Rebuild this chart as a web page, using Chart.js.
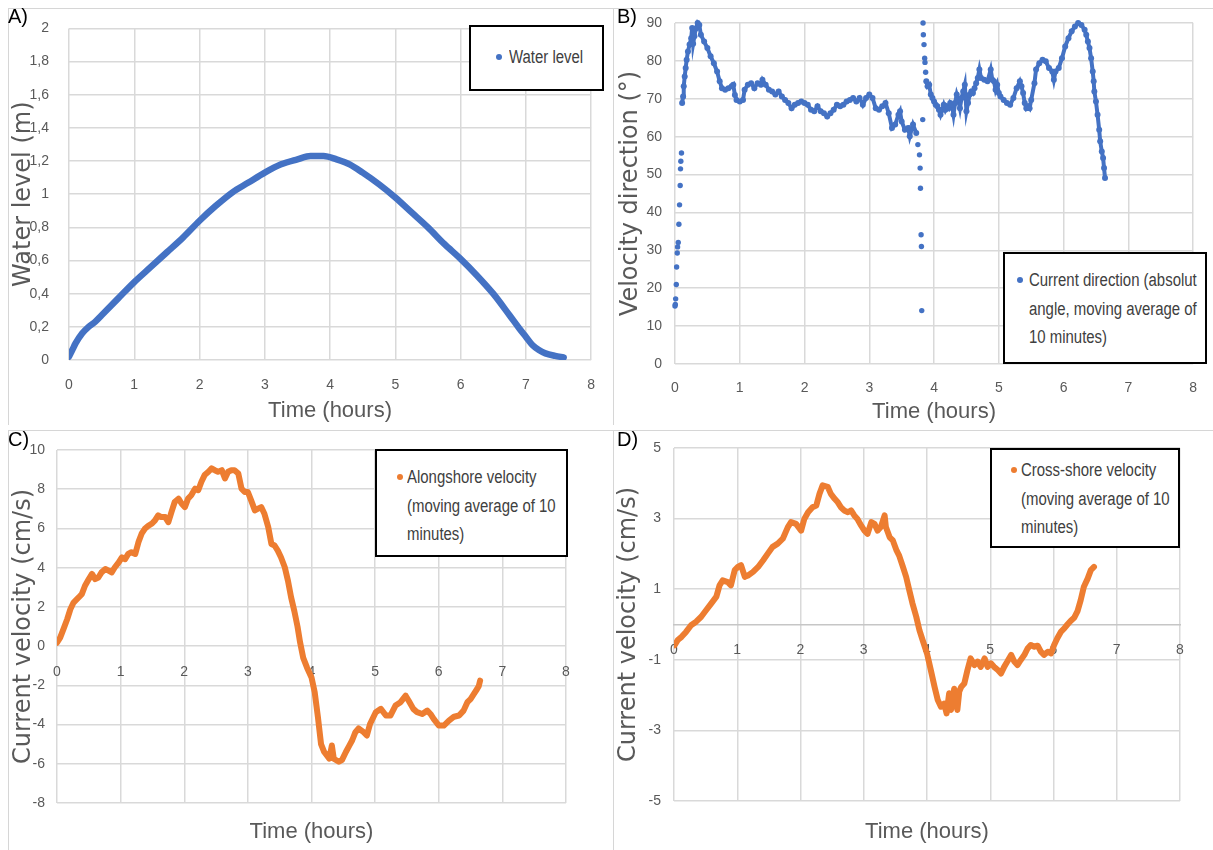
<!DOCTYPE html>
<html>
<head>
<meta charset="utf-8">
<title>Water level and currents</title>
<script src="https://cdn.jsdelivr.net/npm/chart.js@4.4.1/dist/chart.umd.min.js"></script>
<style>
  body { margin: 0; width: 1213px; height: 850px; background: #fff; position: relative; overflow: hidden;
         font-family: 'Liberation Sans', Arial, sans-serif; }
  canvas { position: absolute; }
  .frame { position: absolute; background: #d6d6d6; }
  .tag { position: absolute; font: 20px 'Liberation Sans', Arial, sans-serif; color: #000; line-height: 20px; }
  .legend { position: absolute; border: 2px solid #000; box-sizing: border-box; background: #fff;
            color: #404040; font-size: 18px; line-height: 28.5px; }
  .legend .dot { position: absolute; width: 6px; height: 6px; border-radius: 50%; }
  .legend .txt { position: absolute; white-space: nowrap; transform: scaleX(0.83); transform-origin: 0 0; }
</style>
</head>
<body>

<!-- panel frames -->
<div class="frame" style="left:8px; top:8px; width:1205px; height:1px;"></div>
<div class="frame" style="left:8px; top:8px; width:1px; height:417px;"></div>
<div class="frame" style="left:613px; top:8px; width:1px; height:417px;"></div>
<div class="frame" style="left:8px; top:430px; width:1205px; height:1px;"></div>
<div class="frame" style="left:8px; top:430px; width:1px; height:420px;"></div>
<div class="frame" style="left:613px; top:430px; width:1px; height:420px;"></div>

<canvas id="chartA" width="612" height="425" style="left:0; top:0;"></canvas>
<canvas id="chartB" width="601" height="425" style="left:612px; top:0;"></canvas>
<canvas id="chartC" width="612" height="425" style="left:0; top:425px;"></canvas>
<canvas id="chartD" width="601" height="425" style="left:612px; top:425px;"></canvas>

<div class="tag" style="left:8px; top:6px;">A)</div>
<div class="tag" style="left:617px; top:6px;">B)</div>
<div class="tag" style="left:8px; top:429px;">C)</div>
<div class="tag" style="left:617px; top:429px;">D)</div>

<!-- legends -->
<div class="legend" style="left:469px; top:25px; width:135px; height:66px;">
  <span class="dot" style="left:25px; top:27px; background:#4472c4;"></span>
  <span class="txt" style="left:38px; top:16px;">Water level</span>
</div>
<div class="legend" style="left:1003px; top:252px; width:204px; height:112px;">
  <span class="dot" style="left:12px; top:23px; background:#4472c4;"></span>
  <span class="txt" style="left:24px; top:12px;">Current direction (absolut<br>angle, moving average of<br>10 minutes)</span>
</div>
<div class="legend" style="left:375px; top:449px; width:193px; height:108px;">
  <span class="dot" style="left:20px; top:23px; background:#ed7d31;"></span>
  <span class="txt" style="left:30px; top:12px;">Alongshore velocity<br>(moving average of 10<br>minutes)</span>
</div>
<div class="legend" style="left:990px; top:448px; width:190px; height:100px;">
  <span class="dot" style="left:19px; top:17px; background:#ed7d31;"></span>
  <span class="txt" style="left:29px; top:6px;">Cross-shore velocity<br>(moving average of 10<br>minutes)</span>
</div>

<script>
// ---- tick labels ----
const xTicks  = ['0', '1', '2', '3', '4', '5', '6', '7', '8'];
const aYTicks = ['0', '0,2', '0,4', '0,6', '0,8', '1', '1,2', '1,4', '1,6', '1,8', '2'];
const bYTicks = ['0', '10', '20', '30', '40', '50', '60', '70', '80', '90'];
const cYTicks = ['-8', '-6', '-4', '-2', '0', '2', '4', '6', '8', '10'];
const dYTicks = ['-5', '-3', '-1', '1', '3', '5'];

// ---- A) water level (m) ----
const aTime  = [0, 0.05, 0.1, 0.2, 0.3, 0.4, 0.5, 0.75, 1, 1.25, 1.5, 1.75, 2, 2.25, 2.5, 2.75, 3, 3.25, 3.5, 3.7,
                3.9, 4.1, 4.3, 4.5, 4.75, 5, 5.25, 5.5, 5.75, 6, 6.25, 6.5, 6.75, 6.9, 7, 7.1, 7.2, 7.3, 7.45, 7.58];
const aLevel = [0.02, 0.06, 0.1, 0.16, 0.2, 0.23, 0.27, 0.37, 0.47, 0.56, 0.65, 0.74, 0.84, 0.93, 1.01, 1.07, 1.13, 1.18, 1.21, 1.23,
                1.23, 1.21, 1.18, 1.13, 1.06, 0.98, 0.89, 0.8, 0.7, 0.61, 0.51, 0.4, 0.27, 0.19, 0.14, 0.09, 0.06, 0.04, 0.025, 0.016];

// ---- B) current direction (deg): dense band + isolated fast-changing samples ----
const bBandTime = [0.11, 0.125, 0.135, 0.15, 0.165, 0.18, 0.2, 0.225, 0.25, 0.265, 0.28, 0.3, 0.32, 0.35, 0.375, 0.4, 0.45, 0.5,
  0.55, 0.6, 0.65, 0.69, 0.725, 0.775, 0.825, 0.875, 0.9, 0.925, 0.95, 1.0, 1.05, 1.075, 1.125, 1.175, 1.225, 1.275, 1.325,
  1.35, 1.4, 1.45, 1.5, 1.55, 1.6, 1.65, 1.7, 1.75, 1.8, 1.85, 1.9, 1.95, 2.0, 2.05, 2.1, 2.15, 2.2, 2.25, 2.3, 2.35, 2.4,
  2.45, 2.5, 2.55, 2.6, 2.65, 2.7, 2.75, 2.8, 2.85, 2.9, 2.95, 3.0, 3.05, 3.1, 3.15, 3.2, 3.25, 3.3, 3.35, 3.4, 3.45, 3.475,
  3.5, 3.55, 3.6, 3.625, 3.675, 3.725,
  3.88, 3.9, 3.925, 3.95, 3.975, 4.0, 4.025, 4.05, 4.075, 4.1, 4.125, 4.15, 4.175, 4.2, 4.225, 4.25, 4.275, 4.3, 4.325, 4.35,
  4.375, 4.4, 4.425, 4.45, 4.475, 4.5, 4.525, 4.55, 4.575, 4.6, 4.625, 4.65, 4.675, 4.7, 4.725, 4.775, 4.825, 4.875, 4.9,
  4.925, 4.95, 4.975, 5.0, 5.025, 5.075, 5.125, 5.175, 5.225, 5.275, 5.325, 5.35, 5.375, 5.4, 5.425, 5.45, 5.475, 5.5, 5.55,
  5.575, 5.625, 5.675, 5.725, 5.775, 5.825, 5.85, 5.875, 5.925, 5.975, 6.025, 6.075, 6.125, 6.175, 6.225, 6.275, 6.325,
  6.35, 6.375, 6.4, 6.425, 6.45, 6.465, 6.475, 6.5, 6.525, 6.55, 6.565, 6.59, 6.61, 6.625, 6.64];
const bBandDir = [68.9, 70.6, 73.3, 75.9, 78.1, 80.3, 82.5, 84.3, 86, 88.7, 84.5, 86.5, 88.5, 90, 89.5, 86.9, 85.1, 83.4,
  81.2, 79.4, 77.2, 74.6, 72.8, 72.4, 72.8, 73.3, 73.7, 71, 69.7, 69.3, 69.7, 72.4, 73.7, 74.1, 72.8, 74.1, 73.7,
  75, 73.7, 72.4, 71.9, 71.1, 71.9, 70.6, 69.7, 68.9, 67.5, 68.4, 68.9, 69.3, 68.9, 68.4, 67.1, 66.7, 68, 66.7, 66.2, 65.3, 66.2,
  67.1, 68.4, 68, 68.4, 69.3, 69.7, 70.2, 69.3, 70.2, 68.4, 70.2, 71.1, 70.2, 67.5, 67.1, 68, 68.9, 66.2, 62.3, 63.2, 65.8, 66.7,
  64, 61.8, 62.3, 60.1, 63.2, 61,
  74.6, 73.3, 73.7, 71.1, 70.2, 69.3, 68.4, 68, 67.1, 65.8, 67.1, 68.4, 67.1, 68, 67.5, 68.9, 68.4, 65.8, 68.9, 71.1,
  69.7, 67.5, 70.2, 71.9, 73.7, 66.7, 68.9, 71.1, 71.9, 71.5, 72.8, 74.1, 75.5, 77.7, 75.5, 75, 74.6, 77.7, 75,
  74.6, 72.4, 73.7, 71.5, 70.6, 69.7, 68.9, 68.4, 70.2, 72.8, 74.6, 73.3, 71.5, 68.9, 67.5, 68, 67.5, 69.7, 74.1,
  77.7, 79.4, 80.3, 79.9, 78.1, 77.2, 75, 77.2, 78.1, 80.7, 83.8, 86, 87.8, 89.1, 90, 89.5, 88.2,
  86.9, 85.1, 83.4, 80.7, 77.2, 74.6, 71.9, 69.3, 65.8, 61.8, 58.8, 56.1, 54.4, 51.7, 49.1];
const bSpotTime = [0, 0.005, 0.01, 0.02, 0.025, 0.035, 0.04, 0.05, 0.06, 0.07, 0.08, 0.085, 0.09, 0.1,
  3.75, 3.775, 3.785, 3.79, 3.8, 3.805, 3.81, 3.825, 3.83, 3.835, 3.845, 3.855, 3.86, 3.87];
const bSpotDir  = [15.3, 15.7, 17.2, 21, 25.6, 29.3, 30.9, 32.1, 36.9, 42, 47.1, 51.5, 53.5, 55.7,
  57.9, 55.2, 51.7, 46.4, 34.1, 31, 14.1, 64.5, 90, 86.9, 84.3, 80.7, 79.6, 77];

// ---- C) alongshore velocity (cm/s) ----
const cTime = [0, 0.05, 0.1, 0.16, 0.21, 0.26, 0.34, 0.39, 0.44, 0.5, 0.55, 0.6, 0.65, 0.7, 0.76, 0.81, 0.86, 0.91, 0.97,
  1.02, 1.07, 1.12, 1.17, 1.23, 1.28, 1.33, 1.38, 1.44, 1.49, 1.54, 1.59, 1.64, 1.7, 1.75, 1.8, 1.85, 1.91, 1.96, 2.01,
  2.06, 2.11, 2.17, 2.22, 2.27, 2.32, 2.38, 2.43, 2.48, 2.53, 2.59, 2.64, 2.69, 2.74, 2.79, 2.85, 2.9, 2.95, 3.0, 3.05,
  3.11, 3.16, 3.21, 3.26, 3.32, 3.37, 3.42, 3.47, 3.52, 3.58, 3.63, 3.68, 3.73, 3.78, 3.82, 3.87, 3.93, 4.0, 4.05, 4.1,
  4.15, 4.2, 4.28, 4.32, 4.35, 4.43, 4.48, 4.54, 4.59, 4.64, 4.69, 4.74, 4.82, 4.87, 4.92, 5.01, 5.09, 5.17, 5.24, 5.32,
  5.4, 5.48, 5.53, 5.6, 5.66, 5.74, 5.82, 5.87, 5.92, 6.0, 6.08, 6.16, 6.24, 6.32, 6.39, 6.45, 6.5, 6.55, 6.6, 6.63, 6.65];
const cAlong = [0.17, 0.43, 0.85, 1.37, 1.88, 2.22, 2.48, 2.65, 3.08, 3.42, 3.68, 3.42, 3.5, 3.76, 3.93, 3.85, 3.76, 4.02, 4.27,
  4.53, 4.44, 4.7, 4.79, 4.7, 5.3, 5.73, 5.98, 6.15, 6.24, 6.41, 6.67, 6.58, 6.58, 6.32, 6.84, 7.35, 7.52, 7.26, 7.09,
  7.52, 7.69, 8.03, 7.95, 8.38, 8.72, 8.89, 9.06, 8.97, 8.89, 8.97, 8.55, 8.89, 8.97, 8.97, 8.8, 8.03, 7.86, 7.86, 7.44,
  6.92, 7.01, 7.09, 6.75, 6.07, 5.21, 5.13, 4.87, 4.53, 4.02, 3.33, 2.48, 1.79, 1.0, 0.2, -0.6, -1.1, -1.6, -2.35, -3.6,
  -5.0, -5.4, -5.74, -5.07, -5.74, -5.9, -5.8, -5.4, -5.1, -4.8, -4.39, -4.2, -4.39, -4.56, -3.97, -3.37, -3.2, -3.54, -3.54, -3.03,
  -2.86, -2.53, -2.8, -3.2, -3.37, -3.46, -3.29, -3.46, -3.71, -4.05, -4.05, -3.8, -3.6, -3.54, -3.29, -2.86, -2.7, -2.45, -2.2, -2.03, -1.76];

// ---- D) cross-shore velocity (cm/s) ----
const dTime = [0.01, 0.06, 0.12, 0.19, 0.27, 0.35, 0.43, 0.51, 0.59, 0.67, 0.72, 0.77, 0.85, 0.9, 0.96, 1.01, 1.06, 1.12,
  1.17, 1.25, 1.33, 1.41, 1.48, 1.56, 1.64, 1.72, 1.8, 1.85, 1.93, 2.01, 2.06, 2.12, 2.19, 2.25, 2.3, 2.35, 2.43, 2.48,
  2.54, 2.59, 2.64, 2.69, 2.75, 2.8, 2.85, 2.9, 2.96, 3.01, 3.06, 3.12, 3.17, 3.22, 3.27, 3.33, 3.35, 3.41, 3.46, 3.52,
  3.56, 3.62, 3.67, 3.72, 3.77, 3.83, 3.88, 3.93, 4.0, 4.06, 4.12, 4.17, 4.22, 4.27, 4.31, 4.35, 4.38, 4.43, 4.48, 4.51,
  4.54, 4.59, 4.64, 4.69, 4.75, 4.8, 4.85, 4.91, 4.96, 5.01, 5.06, 5.12, 5.17, 5.22, 5.27, 5.33, 5.38, 5.43, 5.48, 5.54,
  5.59, 5.64, 5.69, 5.75, 5.8, 5.85, 5.91, 5.96, 6.01, 6.06, 6.12, 6.17, 6.22, 6.27, 6.33, 6.38, 6.43, 6.48, 6.54, 6.59, 6.64];
const dCross = [-0.59, -0.44, -0.35, -0.21, -0.02, 0.08, 0.22, 0.41, 0.6, 0.79, 1.11, 1.25, 1.2, 1.11, 1.54, 1.63, 1.68, 1.35,
  1.39, 1.49, 1.63, 1.82, 2.0, 2.2, 2.29, 2.43, 2.76, 2.9, 2.85, 2.66, 2.99, 3.18, 3.32, 3.37, 3.7, 3.94, 3.9, 3.7,
  3.56, 3.46, 3.32, 3.23, 3.18, 3.23, 3.09, 2.99, 2.8, 2.66, 2.57, 2.9, 2.85, 2.66, 2.76, 3.09, 2.76, 2.47, 2.38, 2.09,
  1.95, 1.63, 1.35, 0.97, 0.6, 0.22, -0.16, -0.44, -0.82, -1.29, -1.77, -2.14, -2.33, -2.24, -2.52, -1.95, -2.42, -1.82, -2.42, -1.9,
  -1.77, -1.67, -1.29, -0.96, -1.15, -1.05, -1.2, -0.96, -1.2, -1.1, -1.2, -1.29, -1.39, -1.2, -1.05, -0.86, -1.05, -1.15, -1.01, -0.86,
  -0.68, -0.58, -0.63, -0.6, -0.77, -0.86, -0.77, -0.82, -0.58, -0.39, -0.2, -0.11, 0.0, 0.1, 0.2, 0.38, 0.69, 1.07, 1.3, 1.54, 1.63];

const BLUE = '#4472c4';
const ORANGE = '#ed7d31';
const GRID = '#d9d9d9';
const LABEL = '#595959';
const SANS = "'Liberation Sans', Arial, sans-serif";
const WIDE = "'DejaVu Sans', Verdana, sans-serif";

Chart.defaults.font.family = SANS;
Chart.defaults.color = LABEL;

function toPoints(xs, ys) {
    return xs.map((x, i) => ({ x: x, y: ys[i] }));
}

// y axis shared by all four panels
function yAxis(p) {
    return {
        type: 'linear',
        min: p.min, max: p.max,
        afterFit: s => { s.width = p.width; },
        grid: { color: GRID, lineWidth: 1.5, drawTicks: false },
        border: { display: false },
        ticks: {
            stepSize: p.step, padding: p.pad, color: LABEL, font: { size: 14 },
            callback: (v, i) => p.labels[i]
        },
        title: {
            display: true, text: p.title, color: LABEL,
            font: { family: WIDE, size: 24 }, padding: { top: p.titlePad, bottom: 0 }
        }
    };
}

function makeChart(id, datasets, p) {
    const scales = { y: yAxis(p) };
    const xTitle = {
        display: true, text: 'Time (hours)', color: LABEL,
        font: { size: 22 }, padding: { top: 0, bottom: p.xTitlePad }
    };

    if (p.zeroAxis) {
        // Excel-style: labels sit on the y = 0 line, title stays at the bottom
        scales.x = {
            type: 'linear', position: 'bottom', min: 0, max: 8,
            afterFit: s => { s.height = p.xHeight; },
            grid: { color: GRID, lineWidth: 1.5, drawTicks: false },
            border: { display: false },
            ticks: { display: false, stepSize: 1 },
            title: xTitle
        };
        scales.x0 = {
            type: 'linear', position: { y: 0 }, min: 0, max: 8,
            grid: { display: false, drawTicks: false },
            border: { display: p.zeroLine, color: '#c6c6c6', width: 1.5 },
            ticks: { stepSize: 1, padding: p.xPad, color: LABEL, font: { size: 14 }, callback: (v, i) => xTicks[i] }
        };
    } else {
        scales.x = {
            type: 'linear', position: 'bottom', min: 0, max: 8,
            afterFit: s => { s.height = p.xHeight; },
            grid: { color: GRID, lineWidth: 1.5, drawTicks: false },
            border: { display: false },
            ticks: { stepSize: 1, padding: p.xPad, color: LABEL, font: { size: 14 }, callback: (v, i) => xTicks[i] },
            title: xTitle
        };
    }

    return new Chart(document.getElementById(id), {
        type: 'scatter',
        data: { datasets: datasets },
        options: {
            responsive: false,
            animation: false,
            devicePixelRatio: 1,
            layout: { padding: { left: 0, top: p.top, right: p.right, bottom: 0 } },
            plugins: { legend: { display: false }, tooltip: { enabled: false } },
            scales: scales
        }
    });
}

// A) Water level
makeChart('chartA', [{
    label: 'Water level',
    data: toPoints(aTime, aLevel),
    showLine: true, borderColor: BLUE, borderWidth: 6.5, pointRadius: 0,
    borderCapStyle: 'round', borderJoinStyle: 'round', cubicInterpolationMode: 'monotone'
}], {
    min: 0, max: 2, step: 0.2, labels: aYTicks, width: 69, pad: 20, title: 'Water level (m)', titlePad: 9.6,
    top: 25, right: 9, xHeight: 65, xPad: 17, xTitlePad: 0.8
});

// B) Velocity direction
makeChart('chartB', [{
    label: 'Current direction (absolut angle, moving average of 10 minutes)',
    data: toPoints(bBandTime, bBandDir),
    showLine: true, borderColor: BLUE, borderWidth: 4, backgroundColor: BLUE,
    pointRadius: 3, pointBorderWidth: 0, clip: false,
    segment: { borderColor: ctx => (ctx.p1.parsed.x - ctx.p0.parsed.x > 0.08 ? 'rgba(0,0,0,0)' : undefined) }
}, {
    label: 'Current direction (fast change)',
    data: toPoints(bSpotTime, bSpotDir),
    showLine: false, backgroundColor: BLUE, pointRadius: 2.7, pointBorderWidth: 0, clip: false
}], {
    min: 0, max: 90, step: 10, labels: bYTicks, width: 63, pad: 13, title: 'Velocity direction (°)', titlePad: 3.9,
    top: 23, right: 6, xHeight: 61, xPad: 16, xTitlePad: 0
});

// C) Alongshore velocity
makeChart('chartC', [{
    label: 'Alongshore velocity (moving average of 10 minutes)',
    data: toPoints(cTime, cAlong),
    showLine: true, borderColor: ORANGE, borderWidth: 6, pointRadius: 0,
    borderCapStyle: 'round', borderJoinStyle: 'round'
}], {
    min: -8, max: 10, step: 2, labels: cYTicks, width: 57, pad: 12, title: 'Current velocity (cm/s)', titlePad: 9.6,
    top: 25, right: 46, xHeight: 47, xPad: 18, xTitlePad: 4.8, zeroAxis: true, zeroLine: false
});

// D) Cross-shore velocity
makeChart('chartD', [{
    label: 'Cross-shore velocity (moving average of 10 minutes)',
    data: toPoints(dTime, dCross),
    showLine: true, borderColor: ORANGE, borderWidth: 6, pointRadius: 0,
    borderCapStyle: 'round', borderJoinStyle: 'round'
}], {
    min: -5, max: 5, step: 2, labels: dYTicks, width: 62, pad: 13, title: 'Current velocity (cm/s)', titlePad: 2.6,
    top: 23, right: 33, xHeight: 49, xPad: 17, xTitlePad: 4.8, zeroAxis: true, zeroLine: true
});
</script>
</body>
</html>
